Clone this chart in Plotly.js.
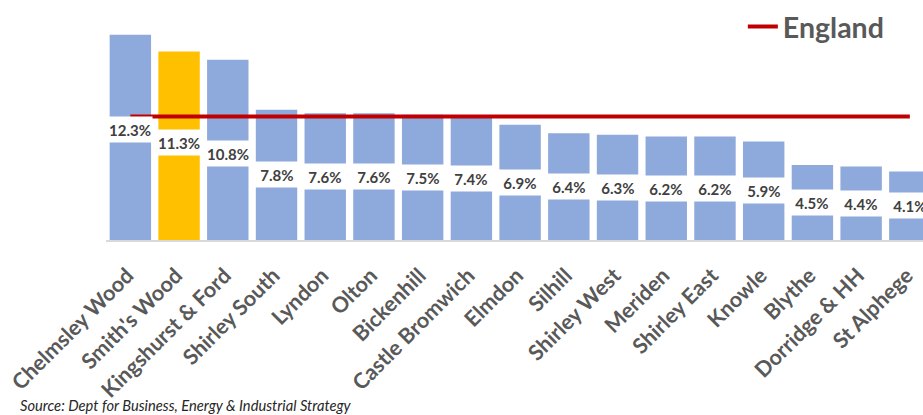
<!DOCTYPE html>
<html>
<head>
<meta charset="utf-8">
<script src="https://cdn.plot.ly/plotly-3.0.1.min.js"></script>
<style>html,body{margin:0;padding:0;background:#fff;}#chart{width:923px;height:415px;}</style>
</head>
<body>
<div id="chart"></div>
<script>
const wards = ["Chelmsley Wood","Smith's Wood","Kingshurst & Ford","Shirley South","Lyndon","Olton","Bickenhill","Castle Bromwich","Elmdon","Silhill","Shirley West","Meriden","Shirley East","Knowle","Blythe","Dorridge & HH","St Alphege"];
const rates = [12.3,11.3,10.8,7.8,7.6,7.6,7.5,7.4,6.9,6.4,6.3,6.2,6.2,5.9,4.5,4.4,4.1];
const highlightWard = "Smith's Wood";
const englandRate = 7.4;
const sourceText = "Source: Dept for Business, Energy & Industrial Strategy";

const blue = "#8EA9DB", gold = "#FFC000", red = "#C00000";
const colors = wards.map(w => w === highlightWard ? gold : blue);

const bars = {
  type: "bar", x: wards, y: rates,
  marker: {color: colors, line: {width: 0}},
  showlegend: false, hoverinfo: "x+y"
};
const england = {
  type: "scatter", mode: "lines", name: "England",
  x: [wards[0], wards[wards.length - 1]],
  y: [englandRate, englandRate],
  line: {color: red, width: 4},
  showlegend: true
};

// small manual nudges for some labels (pixels)
const nudge = {0: 8, 1: 3, 2: -4};
const labels = wards.map((w, i) => ({
  x: w, y: rates[i] / 2, xref: "x", yref: "y",
  text: rates[i].toFixed(1) + "%",
  showarrow: false, bgcolor: "#ffffff",
  width: 44, height: 25, borderpad: 0,
  yshift: nudge[i] || 0,
  font: {family: "Lato, 'Open Sans', sans-serif", size: 15, color: "#404040", weight: "bold"}
}));
labels.push({
  text: sourceText, xref: "paper", yref: "paper",
  x: -88 / 817, y: -0.703, xanchor: "left", yanchor: "middle",
  showarrow: false,
  font: {family: "Lato, 'Open Sans', sans-serif", size: 14.7, color: "#262626", style: "italic"}
});

const layout = {
  width: 923, height: 415,
  margin: {l: 106, r: 0, t: 5, b: 175},
  paper_bgcolor: "#ffffff", plot_bgcolor: "#ffffff",
  bargap: 0.15,
  xaxis: {
    range: [-0.5, 16.27], tickangle: -45, showgrid: false,
    showline: true, linecolor: "#d9d9d9", linewidth: 1.5,
    ticks: "", automargin: false, ticklabelstandoff: 13, ticklabelshift: -3,
    tickfont: {family: "Lato, 'Open Sans', sans-serif", size: 21.5, color: "#595959", weight: "bold"}
  },
  yaxis: {range: [0, 14.08], visible: false, showgrid: false, zeroline: false},
  legend: {
    x: 0.7795, y: 0.906, xanchor: "left", yanchor: "middle",
    bgcolor: "rgba(0,0,0,0)", itemwidth: 30,
    font: {family: "Lato, 'Open Sans', sans-serif", size: 28.5, color: "#595959", weight: "bold"}
  },
  annotations: labels,
  showlegend: true
};

Plotly.newPlot("chart", [bars, england], layout, {displayModeBar: false, staticPlot: true});
</script>
</body>
</html>
